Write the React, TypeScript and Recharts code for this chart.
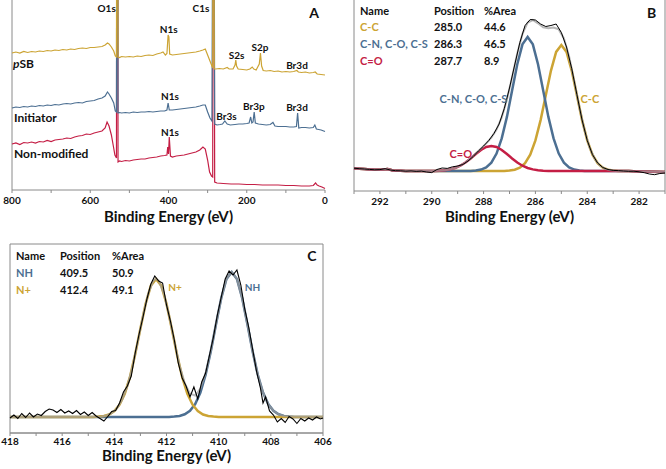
import { LineChart, Line, XAxis, YAxis, ReferenceDot, ReferenceLine, ReferenceArea } from 'recharts';

const FONT = 'Lato, "Open Sans", sans-serif';
const GOLD = '#CCA434';
const BLUE = '#4C6F92';
const RED = '#C41E45';
const AXIS = '#8A8A8A';
const FIT = '#9E9E9E';
const INK = '#111';

// ---- panel A: survey spectra, [binding energy eV, intensity a.u.]
const surveySB = [
  [800, 137], [790, 138], [780, 137], [770, 138.5], [760, 137.5], [750, 138.5], [740, 138], [730, 139], [720, 138.5],
  [710, 139.5], [700, 139], [690, 140], [680, 139.5], [670, 140.5], [660, 140], [650, 141], [640, 140.5], [630, 141.5],
  [620, 142], [610, 141.5], [600, 142.5], [590, 142.5], [580, 143], [570, 143.5], [562, 145], [556, 147], [552, 146],
  [546, 143], [540, 139], [536, 134], [533, 133], [532, 400], [530, 400], [529, 133], [525, 132.5], [520, 133.5], [510, 133],
  [500, 133.5], [490, 133], [480, 134], [470, 133.5], [460, 134.5], [450, 135], [440, 134.5], [430, 136], [420, 137],
  [414, 138], [408, 135], [404, 136.5], [401, 155], [399, 153], [397, 136], [390, 135], [380, 135.5], [370, 136],
  [360, 136.5], [350, 137], [340, 137.5], [330, 138], [320, 139], [312, 140], [306, 141], [302, 137], [296, 131],
  [290, 125], [287, 122], [286, 400], [284, 400], [283, 121], [280, 121], [270, 121.5], [260, 121], [250, 122.5], [245, 121],
  [235, 121], [230, 125], [228, 130], [226, 124], [222, 121], [210, 120.5], [200, 120], [192, 121], [186, 123],
  [182, 121], [176, 120], [168, 126], [165, 137], [162, 124], [158, 119.5], [150, 119], [140, 119.5], [130, 118.5],
  [120, 119], [110, 118], [100, 118.5], [90, 118], [80, 118.5], [72, 119.5], [68, 118], [60, 117.5], [50, 118],
  [40, 117], [30, 117.5], [25, 118], [20, 116], [10, 115.5], [0, 115],
];
const surveyInit = [
  [800, 82], [790, 83], [780, 82.5], [770, 83.5], [760, 83], [750, 84], [740, 83.5], [730, 84.5], [720, 84],
  [710, 85], [700, 84.5], [690, 85.5], [680, 85], [670, 86], [660, 86.5], [650, 86], [640, 87], [630, 87.5],
  [620, 87], [610, 88.5], [600, 89], [590, 89.5], [580, 91], [570, 92], [562, 94], [556, 98], [552, 96], [546, 92],
  [540, 87], [536, 79], [533, 78], [532, 400], [530, 400], [529, 77], [525, 77.5], [520, 77], [510, 77.5], [500, 77], [490, 78],
  [480, 77.5], [470, 78], [460, 78], [450, 78.5], [440, 78], [430, 78.5], [420, 79], [410, 79], [404, 80], [401, 87],
  [398, 80], [390, 80], [380, 80.5], [370, 81], [360, 81.5], [350, 82], [340, 82.5], [330, 83], [320, 84], [312, 85],
  [306, 85], [300, 78], [294, 72], [289, 69], [286, 400], [284, 400], [282, 66], [276, 65], [268, 65.5], [262, 66], [256, 69],
  [250, 66], [242, 65], [230, 65.5], [220, 66], [210, 66], [200, 66.5], [194, 67], [190, 73], [187, 67], [184, 68],
  [181, 78], [178, 67], [170, 66], [160, 65.5], [150, 65], [140, 65.5], [133, 67.5], [128, 64], [120, 63.5],
  [110, 63.5], [100, 63.5], [90, 63], [80, 63], [73, 63.5], [70, 77], [67, 62], [60, 62.5], [50, 62.5], [40, 62],
  [30, 62.5], [26, 65], [22, 61], [10, 60], [0, 58.5],
];
const surveyBare = [
  [800, 46], [790, 47], [780, 45.5], [770, 47.5], [760, 47], [750, 48], [740, 47], [730, 48.5], [720, 48],
  [710, 49.5], [700, 48.5], [690, 50], [680, 50.5], [670, 51], [660, 52], [650, 51.5], [640, 53], [630, 54],
  [620, 54.5], [610, 56], [600, 55.5], [590, 57], [580, 58], [570, 59], [562, 62], [557, 68], [552, 64], [546, 55],
  [541, 44], [537, 35], [533, 32], [532, 400], [530, 400], [529, 28], [525, 29], [520, 28.5], [510, 29.5], [500, 29], [490, 30],
  [480, 30.5], [470, 31], [460, 31], [450, 32], [440, 32.5], [430, 33], [420, 34], [410, 34.5], [404, 35], [402, 43],
  [400, 36], [398, 53], [395, 34], [390, 33], [380, 34], [370, 34.5], [360, 35], [350, 36], [340, 37], [330, 38],
  [320, 40], [312, 43], [306, 41], [300, 30], [295, 18], [290, 14], [287, 13], [286, 400], [284, 400], [282, 8], [276, 7],
  [260, 6.5], [240, 6], [220, 6], [200, 5.5], [180, 5.5], [160, 5], [140, 5], [120, 5], [100, 4.5], [80, 4.5],
  [60, 4], [40, 4], [30, 4.5], [24, 7], [20, 5], [15, 4], [8, 3], [0, 1.5],
];
const surveyTicks = [800, 700, 600, 500, 400, 300, 200, 100, 0];

// ---- panel B: C1s high resolution
const c1sBgLeft = [[293, 22.5], [292.6, 22], [292.2, 21.2], [291.9, 21.5], [291.7, 22], [291.5, 20.6], [291.2, 20.2], [291, 20]];
const c1sBgRight = [[282.4, 20], [282, 19.6], [281.5, 19.2], [281, 19]];
const c1sCC = [
  [287.2, 20.1], [287.0, 20.4], [286.8, 21.3], [286.6, 23.4], [286.4, 27.9], [286.2, 36.4], [286.0, 50.6], [285.8, 70.9],
  [285.6, 95.7], [285.4, 120.4], [285.2, 139.1], [285.0, 146], [284.8, 139.1], [284.6, 120.4], [284.4, 95.7],
  [284.2, 70.9], [284.0, 50.6], [283.8, 36.4], [283.6, 27.9], [283.4, 23.4], [283.2, 21.3], [283.0, 20.4], [282.8, 20.1],
];
const c1sCN = [
  [288.5, 20.1], [288.3, 20.5], [288.1, 21.4], [287.9, 23.6], [287.7, 28.4], [287.5, 37.4], [287.3, 52.6], [287.1, 74.1],
  [286.9, 100.5], [286.7, 126.8], [286.5, 146.6], [286.3, 154], [286.1, 146.6], [285.9, 126.8], [285.7, 100.5],
  [285.5, 74.1], [285.3, 52.6], [285.1, 37.4], [284.9, 28.4], [284.7, 23.6], [284.5, 21.4], [284.3, 20.5], [284.1, 20.1],
];
const c1sCO = [
  [289.9, 20.1], [289.7, 20.3], [289.5, 20.8], [289.3, 21.6], [289.1, 23], [288.9, 25.3], [288.7, 28.5], [288.5, 32.5],
  [288.3, 37], [288.1, 41], [287.9, 44], [287.7, 45], [287.5, 44], [287.3, 41], [287.1, 37], [286.9, 32.5],
  [286.7, 28.5], [286.5, 25.3], [286.3, 23], [286.1, 21.6], [285.9, 20.8], [285.7, 20.3], [285.5, 20.1],
];
const c1sEnvelope = [
  [290.1, 20.1], [289.9, 20.1], [289.7, 20.3], [289.5, 20.8], [289.3, 21.6], [289.1, 23], [288.9, 25.3], [288.7, 28.5],
  [288.5, 32.6], [288.3, 37.5], [288.1, 42.4], [287.9, 47.6], [287.7, 53.4], [287.5, 61.4], [287.3, 73.7], [287.1, 91.4],
  [286.9, 113.8], [286.7, 137.4], [286.5, 157.1], [286.3, 168.5], [286.1, 171], [285.9, 167.7], [285.7, 163.8],
  [285.5, 162.7], [285.3, 163.5], [285.1, 161.6], [284.9, 152.6], [284.7, 134.5], [284.5, 109.9], [284.3, 83.5],
  [284.1, 60.2], [283.9, 42.8], [283.7, 31.5], [283.5, 25.2], [283.3, 22.1], [283.1, 20.8], [282.9, 20.3], [282.7, 20.1],
];
const c1sRaw = [
  [293.0, 22.8], [292.8, 22.3], [292.6, 22.0], [292.4, 21.6], [292.2, 21.2], [292.0, 21.4], [291.8, 22.3], [291.6, 21.0],
  [291.4, 20.3], [291.2, 20.2], [291.0, 19.8], [290.8, 20.1], [290.6, 19.6], [290.4, 19.9], [290.2, 19.0], [290.0, 18.4],
  [289.8, 21.5], [289.6, 23.0], [289.4, 22.6], [289.2, 24.2], [289.0, 25.0], [288.8, 26.5], [288.6, 30.0], [288.4, 34.5],
  [288.2, 40.0], [288.0, 45.0], [287.8, 50.5], [287.6, 57.5], [287.4, 67.0], [287.2, 82.5], [287.0, 103.0], [286.8, 126.0],
  [286.6, 148.5], [286.4, 165.5], [286.2, 171.5], [286.0, 171.0], [285.8, 167.0], [285.6, 164.5], [285.4, 165.5],
  [285.2, 167.0], [285.0, 158.5], [284.8, 144.0], [284.6, 122.5], [284.4, 96.5], [284.2, 71.0], [284.0, 50.5],
  [283.8, 36.5], [283.6, 28.0], [283.4, 23.5], [283.2, 21.5], [283.0, 20.6], [282.8, 20.4], [282.6, 20.0], [282.4, 19.7],
  [282.2, 19.8], [282.0, 19.2], [281.8, 18.3], [281.6, 17.0], [281.4, 16.3], [281.2, 17.5], [281.0, 18.0],
];
const c1sTicks = [293, 292, 291, 290, 289, 288, 287, 286, 285, 284, 283, 282, 281];

// ---- panel C: N1s high resolution
const n1sBg = [[418, 16], [406, 16]];
const n1sNH = [
  [411.9, 16.1], [411.7, 16.4], [411.5, 17.0], [411.3, 18.7], [411.1, 22.2], [410.9, 28.9], [410.7, 40.5], [410.5, 58.2],
  [410.3, 81.8], [410.1, 109], [409.9, 135], [409.7, 154], [409.5, 161], [409.3, 154], [409.1, 135], [408.9, 109],
  [408.7, 81.8], [408.5, 58.2], [408.3, 40.5], [408.1, 28.9], [407.9, 22.2], [407.7, 18.7], [407.5, 17.0], [407.3, 16.4],
  [407.1, 16.1],
];
const n1sNplus = [
  [414.8, 16.1], [414.6, 16.4], [414.4, 17.0], [414.2, 18.5], [414.0, 21.9], [413.8, 28.3], [413.6, 39.3], [413.4, 56.2],
  [413.2, 78.7], [413.0, 104.5], [412.8, 129.3], [412.6, 147.4], [412.4, 154], [412.2, 147.4], [412.0, 129.3],
  [411.8, 104.5], [411.6, 78.7], [411.4, 56.2], [411.2, 39.3], [411.0, 28.3], [410.8, 21.9], [410.6, 18.5], [410.4, 17.0],
  [410.2, 16.4], [410.0, 16.1],
];
const n1sEnvelope = [
  [414.7, 16.2], [414.5, 16.6], [414.3, 17.6], [414.1, 19.9], [413.9, 24.6], [413.7, 33.1], [413.5, 47.1], [413.3, 66.8],
  [413.1, 91.5], [412.9, 117.4], [412.7, 139.5], [412.5, 152.3], [412.4, 154], [412.3, 152.3], [412.1, 139.5],
  [411.9, 117.5], [411.7, 91.9], [411.5, 67.8], [411.3, 49.8], [411.1, 39.3], [410.9, 37.5], [410.7, 44.4], [410.5, 59.8],
  [410.3, 82.4], [410.1, 109.2], [409.9, 135], [409.7, 154], [409.5, 161], [409.3, 154], [409.1, 135], [408.9, 109],
  [408.7, 81.8], [408.5, 58.2], [408.3, 40.5], [408.1, 28.9], [407.9, 22.2], [407.7, 18.7], [407.5, 17.0], [407.3, 16.4],
];
const n1sRaw = [
  [418.0, 15.0], [417.85, 18.0], [417.7, 14.5], [417.55, 19.5], [417.4, 15.5], [417.25, 20.0], [417.1, 16.0],
  [416.95, 19.0], [416.8, 17.5], [416.65, 21.5], [416.5, 24.0], [416.35, 23.0], [416.2, 20.5], [416.05, 23.5],
  [415.9, 20.0], [415.75, 22.0], [415.6, 19.5], [415.45, 22.5], [415.3, 18.5], [415.15, 21.0], [415.0, 17.5],
  [414.85, 20.5], [414.7, 17.0], [414.55, 14.5], [414.4, 12.0], [414.25, 16.5], [414.1, 21.5], [413.95, 22.5],
  [413.8, 30.0], [413.65, 41.0], [413.5, 47.0], [413.35, 57.0], [413.2, 80.0], [413.05, 99.0], [412.9, 116.0],
  [412.75, 134.0], [412.6, 149.0], [412.45, 157.0], [412.3, 152.0], [412.15, 150.0], [412.0, 128.0], [411.85, 112.0],
  [411.7, 93.0], [411.55, 70.0], [411.4, 55.0], [411.25, 47.0], [411.1, 36.0], [410.95, 46.0], [410.8, 34.0],
  [410.65, 51.0], [410.5, 60.0], [410.35, 78.0], [410.2, 96.0], [410.05, 118.0], [409.9, 136.0], [409.75, 154.0],
  [409.6, 162.0], [409.45, 158.0], [409.3, 163.0], [409.15, 148.0], [409.0, 124.0], [408.85, 106.0], [408.7, 84.0],
  [408.55, 62.0], [408.4, 45.0], [408.3, 30.0], [408.2, 36.0], [408.05, 22.0], [407.9, 18.0], [407.75, 11.0],
  [407.6, 14.5], [407.45, 10.5], [407.3, 16.5], [407.15, 14.0], [407.0, 9.5], [406.85, 14.5], [406.7, 12.0],
  [406.55, 15.0], [406.4, 13.0], [406.25, 16.0], [406.1, 14.0], [406.0, 15.0],
];
const n1sTicks = [418, 417, 416, 415, 414, 413, 412, 411, 410, 409, 408, 407, 406];

// peak labels: [x, y, text, colour]
const surveyTags: [number, number, string, string][] = [
  [558, 181.7, 'O1s', INK], [317, 181.7, 'C1s', INK], [399.5, 161, 'N1s', INK], [226, 135, 'S2s', INK],
  [166, 143, 'S2p', INK], [71.6, 125, 'Br3d', INK], [396, 93.7, 'N1s', INK], [252, 74, 'Br3s', INK],
  [182, 84, 'Br3p', INK], [71.6, 82.7, 'Br3d', INK], [396, 57.3, 'N1s', INK],
];
const c1sTags: [number, number, string, string][] = [
  [288.39, 92, 'C-N, C-O, C-S', BLUE], [283.9, 92, 'C-C', GOLD], [288.88, 37, 'C=O', RED],
];
const n1sTags: [number, number, string, string][] = [
  [411.67, 146, 'N+', GOLD], [408.7, 146, 'NH', BLUE],
];

const c1sTable = [
  ['C-C', '285.0', '44.6', GOLD],
  ['C-N, C-O, C-S', '286.3', '46.5', BLUE],
  ['C=O', '287.7', '8.9', RED],
];
const n1sTable = [
  ['NH', '409.5', '50.9', BLUE],
  ['N+', '412.4', '49.1', GOLD],
];

const toPts = (rows: number[][]) => rows.map(([be, v]) => ({ be, v }));

const tickStyle = { fill: INK, fontSize: 10, fontWeight: 700, fontFamily: FONT };
const titleLabel = (offset: number) => ({
  value: 'Binding Energy (eV)',
  position: 'insideBottom' as const,
  offset,
  fill: INK,
  fontSize: 15,
  fontWeight: 700,
  fontFamily: FONT,
});

const tagDots = (tags: [number, number, string, string][], size: number) =>
  tags.map(([x, y, text, color], i) => (
    <ReferenceDot
      key={'t' + i}
      x={x}
      y={y}
      r={0}
      fill="none"
      stroke="none"
      ifOverflow="visible"
      label={{ value: text, position: 'center', fill: color, fontSize: size, fontWeight: 700, fontFamily: FONT }}
    />
  ));

function series(data: number[][], color: string, width: number, key: string, opacity = 1) {
  return (
    <Line
      key={key}
      data={toPts(data)}
      dataKey="v"
      type="linear"
      stroke={color}
      strokeWidth={width}
      strokeOpacity={opacity}
      dot={false}
      activeDot={false}
      isAnimationActive={false}
    />
  );
}

function SurveyPanel() {
  return (
    <LineChart width={340} height={230} margin={{ top: 0, right: 15, bottom: 10, left: 12 }}>
      <XAxis
        type="number"
        dataKey="be"
        domain={[0, 800]}
        reversed
        ticks={surveyTicks}
        interval={0}
        tickFormatter={(v: number) => (v % 200 === 0 ? String(v) : '')}
        height={30}
        tickSize={3}
        tickMargin={4}
        axisLine={{ stroke: AXIS }}
        tickLine={{ stroke: AXIS }}
        tick={tickStyle}
        label={titleLabel(-2)}
      />
      <YAxis hide width={0} type="number" domain={[0, 190]} allowDataOverflow />
      <ReferenceLine x={800} stroke={AXIS} />
      {series(surveyBare, RED, 1.2, 'bare')}
      {series(surveyInit, BLUE, 1.2, 'init')}
      {series(surveySB, GOLD, 1.2, 'psb')}
      {tagDots(surveyTags, 10)}
    </LineChart>
  );
}

function CarbonPanel() {
  const line = (data: number[][]) => [...c1sBgLeft, ...data, ...c1sBgRight];
  return (
    <LineChart width={336} height={235} margin={{ top: 0, right: 1, bottom: 14, left: 24 }}>
      <XAxis
        type="number"
        dataKey="be"
        domain={[281, 293]}
        reversed
        ticks={c1sTicks}
        interval={0}
        tickFormatter={(v: number) => (v % 2 === 0 ? String(v) : '')}
        height={30}
        tickSize={3}
        tickMargin={4}
        axisLine={{ stroke: AXIS }}
        tickLine={{ stroke: AXIS }}
        tick={tickStyle}
        label={titleLabel(-1)}
      />
      <YAxis hide width={0} type="number" domain={[0, 191]} allowDataOverflow />
      <ReferenceLine x={293} stroke={AXIS} />
      <ReferenceLine x={281} stroke={AXIS} />
      {series(line(c1sCC), GOLD, 2.5, 'cc')}
      {series(line(c1sCN), BLUE, 2.5, 'cn')}
      {series(line(c1sCO), RED, 2.5, 'co')}
      {series(line(c1sEnvelope), FIT, 2, 'env', 0.75)}
      {series(c1sRaw, '#000', 1, 'raw')}
      {tagDots(c1sTags, 11)}
    </LineChart>
  );
}

function NitrogenPanel() {
  const line = (data: number[][]) => [n1sBg[0], ...data, n1sBg[1]];
  return (
    <LineChart width={340} height={226} margin={{ top: 1, right: 17, bottom: 6, left: 10 }}>
      <XAxis
        type="number"
        dataKey="be"
        domain={[406, 418]}
        reversed
        ticks={n1sTicks}
        interval={0}
        tickFormatter={(v: number) => (v % 2 === 0 ? String(v) : '')}
        height={30}
        tickSize={3}
        tickMargin={2}
        axisLine={{ stroke: AXIS }}
        tickLine={{ stroke: AXIS }}
        tick={tickStyle}
        label={titleLabel(2)}
      />
      <YAxis hide width={0} type="number" domain={[0, 189]} allowDataOverflow />
      <ReferenceArea x1={418} x2={406} y1={0} y2={189} fill="none" stroke={AXIS} />
      {series(line(n1sNH), BLUE, 2.5, 'nh')}
      {series(line(n1sNplus), GOLD, 2.5, 'np')}
      {series(line(n1sEnvelope), FIT, 2, 'env', 0.7)}
      {series(n1sRaw, '#000', 1.1, 'raw')}
      {tagDots(n1sTags, 10)}
    </LineChart>
  );
}

function Notes() {
  const t = { fontFamily: FONT, fontWeight: 700 } as const;
  return (
    <svg width={666} height={469} style={{ position: 'absolute', left: 0, top: 0, pointerEvents: 'none' }}>
      <g {...t} fontSize={12} fill={INK}>
        <text x={13} y={68}>
          <tspan fontStyle="italic">p</tspan>SB
        </text>
        <text x={14} y={121.5}>Initiator</text>
        <text x={14} y={158.3}>Non-modified</text>
      </g>
      <g {...t} fontSize={14} fill={INK} textAnchor="middle">
        <text x={314} y={17.5}>A</text>
        <text x={651.5} y={18}>B</text>
        <text x={312} y={261}>C</text>
      </g>
      <g {...t} fontSize={11}>
        <text x={360} y={14.7} fill={INK}>Name</text>
        <text x={434} y={14.7} fill={INK}>Position</text>
        <text x={484} y={14.7} fill={INK}>%Area</text>
        {c1sTable.map(([name, pos, area, color], i) => (
          <g key={name}>
            <text x={360} y={31.3 + i * 16.7} fill={color}>{name}</text>
            <text x={434} y={31.3 + i * 16.7} fill={INK}>{pos}</text>
            <text x={484} y={31.3 + i * 16.7} fill={INK}>{area}</text>
          </g>
        ))}
        <text x={16} y={260} fill={INK}>Name</text>
        <text x={60} y={260} fill={INK}>Position</text>
        <text x={112} y={260} fill={INK}>%Area</text>
        {n1sTable.map(([name, pos, area, color], i) => (
          <g key={name}>
            <text x={16} y={276.7 + i * 16.8} fill={color}>{name}</text>
            <text x={60} y={276.7 + i * 16.8} fill={INK}>{pos}</text>
            <text x={112} y={276.7 + i * 16.8} fill={INK}>{area}</text>
          </g>
        ))}
      </g>
    </svg>
  );
}

export default function App() {
  return (
    <div style={{ position: 'absolute', left: 0, top: 0, width: 666, height: 469, background: '#fff', fontFamily: FONT, overflow: 'hidden' }}>
      <div style={{ position: 'absolute', left: 0, top: 0 }}>
        <SurveyPanel />
      </div>
      <div style={{ position: 'absolute', left: 330, top: 0 }}>
        <CarbonPanel />
      </div>
      <div style={{ position: 'absolute', left: 0, top: 243 }}>
        <NitrogenPanel />
      </div>
      <Notes />
    </div>
  );
}
